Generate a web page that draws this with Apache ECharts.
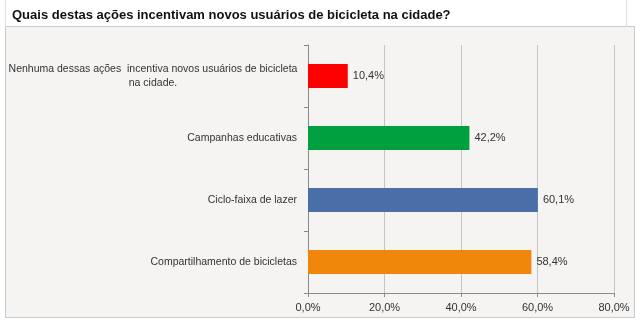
<!DOCTYPE html>
<html><head><meta charset="utf-8">
<script src="https://cdn.jsdelivr.net/npm/echarts@6/dist/echarts.min.js"></script>
<style>html,body{margin:0;padding:0;background:#fff}#c{width:640px;height:321px}</style>
</head><body><div id="c"></div>
<script>
const titleText = 'Quais destas ações incentivam novos usuários de bicicleta na cidade?';
const categories = [
  'Nenhuma dessas ações  incentiva novos usuários de bicicleta\nna cidade.',
  'Campanhas educativas',
  'Ciclo-faixa de lazer',
  'Compartilhamento de bicicletas'
];
const values = [10.4, 42.2, 60.1, 58.4];
const barColors = ['#fe0000', '#00a03e', '#4a6ea8', '#f0870a'];
const xTicks = [0, 20, 40, 60, 80];

const fmt = v => v.toFixed(1).replace('.', ',') + '%';
const chart = echarts.init(document.getElementById('c'), null, {renderer: 'canvas'});
chart.setOption({
  animation: false,
  backgroundColor: '#ffffff',
  graphic: [
    {type: 'rect', shape: {x: 5.5, y: 26.5, width: 629, height: 291}, style: {fill: '#f5f4f2', stroke: '#c9c9c9', lineWidth: 1}, z: -10},
    {type: 'line', shape: {x1: 5.5, y1: 0, x2: 5.5, y2: 27}, style: {stroke: '#e0e0e0', lineWidth: 1}, z: -10},
    {type: 'line', shape: {x1: 626.5, y1: 0, x2: 626.5, y2: 27}, style: {stroke: '#e0e0e0', lineWidth: 1}, z: -10}
  ],
  title: {
    text: titleText, left: 7, top: 4,
    textStyle: {fontFamily: 'Liberation Sans', fontWeight: 'bold', fontSize: 13, color: '#111'}
  },
  grid: {left: 308, right: 26, top: 45, bottom: 28, containLabel: false},
  xAxis: {
    type: 'value', min: xTicks[0], max: xTicks[xTicks.length - 1], interval: 20,
    axisLine: {show: true, lineStyle: {color: '#8a8a8a'}},
    axisTick: {show: true, length: 4, lineStyle: {color: '#8a8a8a'}},
    splitLine: {show: true, lineStyle: {color: '#c4c4c4'}},
    axisLabel: {formatter: fmt, margin: 9, color: '#333', fontFamily: 'Liberation Sans', fontSize: 11}
  },
  yAxis: {
    type: 'category', data: categories, inverse: true,
    axisLine: {show: true, lineStyle: {color: '#8a8a8a'}},
    axisTick: {show: true, length: 4, lineStyle: {color: '#8a8a8a'}},
    axisLabel: {
      margin: 11, color: '#333', fontFamily: 'Liberation Sans', fontSize: 10.5, align: 'right', lineHeight: 14,
      formatter: v => v.indexOf('\n') >= 0 ? v.split('\n').map(s => '{c|' + s + '}').join('\n') : v,
      rich: {c: {width: 288, align: 'center', color: '#333', fontFamily: 'Liberation Sans', fontSize: 10.5, lineHeight: 14}}
    }
  },
  series: [{
    type: 'bar',
    data: values.map((v, i) => ({value: v, itemStyle: {color: barColors[i]}})),
    barWidth: 24,
    label: {show: true, position: 'right', distance: 5, formatter: p => fmt(p.value), color: '#333', fontFamily: 'Liberation Sans', fontSize: 11}
  }]
});
</script></body></html>
